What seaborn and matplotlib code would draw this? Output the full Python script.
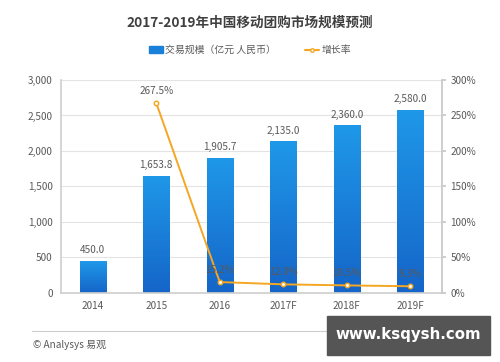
import numpy as np
import pandas as pd
import matplotlib
matplotlib.use("Agg")
import matplotlib.pyplot as plt
import seaborn as sns
from matplotlib.colors import LinearSegmentedColormap
from matplotlib.lines import Line2D
from matplotlib.patches import Rectangle

years = ["2014", "2015", "2016", "2017F", "2018F", "2019F"]
scale = [450.0, 1653.8, 1905.7, 2135.0, 2360.0, 2580.0]
growth = [np.nan, 267.5, 15.2, 12.0, 10.5, 9.3]
left_ticks = [0, 500, 1000, 1500, 2000, 2500, 3000]
right_ticks = [0, 50, 100, 150, 200, 250, 300]

sns.set_theme(style="white")
plt.rcParams['font.family'] = ['Noto Sans CJK SC', 'DejaVu Sans']

df = pd.DataFrame({"year": years, "scale": scale, "growth": growth})

fig = plt.figure(figsize=(5.0, 3.62), dpi=100)
ax = fig.add_axes([0.122, 0.191, 0.762, 0.588])

blue = "#1a7fd8"
orange = "#f5a623"
grey = "#595959"

sns.barplot(data=df, x="year", y="scale", order=years, color=blue,
            width=0.41, saturation=1, ax=ax)
ax.set_ylim(0, 3000)
ax.set_yticks(left_ticks)
ax.set_yticklabels([f"{v:,}" for v in left_ticks])
ax.set_xlabel("")
ax.set_ylabel("")
ax.grid(axis="y", color="#e3e3e3", linewidth=0.8)
ax.set_axisbelow(True)
for s in ["top", "right"]:
    ax.spines[s].set_visible(False)
ax.spines["left"].set_color("#d0d0d0")
ax.spines["bottom"].set_color("#d0d0d0")
ax.tick_params(axis="both", length=0, labelsize=7.2, labelcolor=grey, pad=6)

# gradient fill on bars
cmap = LinearSegmentedColormap.from_list("g", ["#1565c8", "#1f98e8"])
grad = np.linspace(0, 1, 256).reshape(-1, 1)
for p in ax.patches:
    x0, y0 = p.get_x(), p.get_y()
    w, h = p.get_width(), p.get_height()
    im = ax.imshow(grad, cmap=cmap, aspect="auto", origin="lower",
                   extent=[x0, x0 + w, y0, y0 + h], zorder=p.get_zorder())
    im.set_clip_path(p)
ax.set_xlim(-0.5, len(years) - 0.5)
ax.set_ylim(0, 3000)

for i, v in enumerate(scale):
    ax.annotate(f"{v:,.1f}", (i, v), xytext=(0, 4), textcoords="offset points",
                ha="center", va="bottom", fontsize=7.2, color=grey)

ax2 = ax.twinx()
sns.pointplot(data=df, x="year", y="growth", order=years, color=orange,
              markers="o", errorbar=None, ax=ax2,
              markerfacecolor="white", markeredgecolor=orange,
              markersize=3.2, linewidth=1.4)
ax2.set_ylim(0, 300)
ax2.set_yticks(right_ticks)
ax2.set_yticklabels([f"{v}%" for v in right_ticks])
ax2.set_xlim(-0.5, len(years) - 0.5)
ax2.set_ylabel("")
ax2.set_xlabel("")
for s in ["top", "left", "bottom"]:
    ax2.spines[s].set_visible(False)
ax2.spines["right"].set_color("#c8c8c8")
ax2.tick_params(axis="y", length=3, color="#c8c8c8", labelsize=7.2,
                labelcolor=grey, pad=3)
ax2.grid(False)

for i, g in enumerate(growth):
    if not np.isnan(g):
        ax2.annotate(f"{g:.1f}%", (i, g), xytext=(0, 5), textcoords="offset points",
                     ha="center", va="bottom", fontsize=7.2, color=grey, zorder=5)

fig.text(0.5, 0.938, "2017-2019年中国移动团购市场规模预测", ha="center", va="center",
         fontsize=9.8, fontweight="bold", color="#404040")

# legend
handles = [Rectangle((0, 0), 1, 1, color=blue),
           Line2D([0], [0], color=orange, lw=1.5, marker="o", markersize=2.5,
                  markerfacecolor="white", markeredgecolor=orange)]
fig.legend(handles, ["交易规模（亿元 人民币）", "增长率"], loc="center",
           bbox_to_anchor=(0.5, 0.862), ncol=2, frameon=False, fontsize=7.1,
           labelcolor=grey, handlelength=1.4, handleheight=0.6,
           columnspacing=3.0, handletextpad=0.2)

# footer
fig.add_artist(Line2D([0.064, 0.94], [0.086, 0.086], color="#cccccc", lw=0.8))
fig.text(0.066, 0.047, "© Analysys 易观", fontsize=7.2, color=grey, va="center")
fig.add_artist(Rectangle((0.654, 0.02), 0.326, 0.107, transform=fig.transFigure,
                         color="#555555", zorder=10))
fig.text(0.817, 0.075, "www.ksqysh.com", ha="center", va="center", fontsize=10.8,
         fontweight="bold", color="white", zorder=11, family="DejaVu Sans")

fig.savefig("out.png", dpi=100)
